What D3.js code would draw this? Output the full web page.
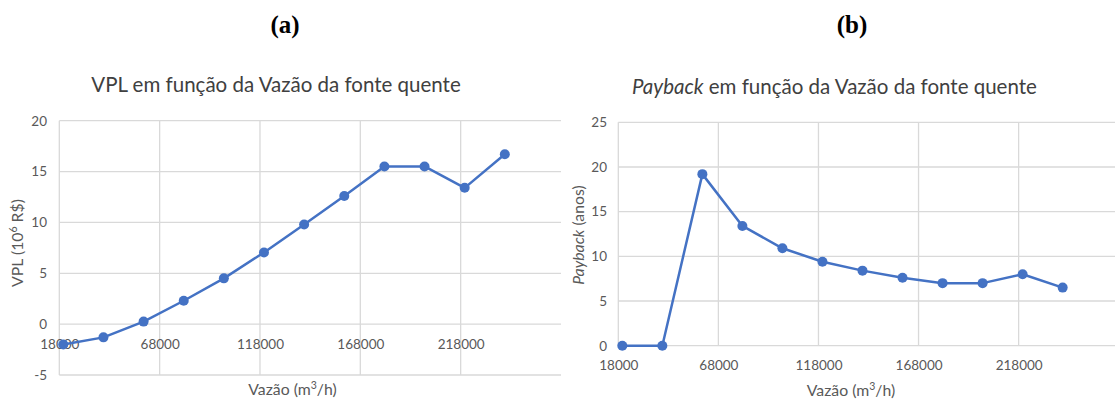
<!DOCTYPE html>
<html>
<head>
<meta charset="utf-8">
<script src="https://cdn.jsdelivr.net/npm/d3@7"></script>
<style>
  html, body { margin: 0; padding: 0; background: #fff; }
  svg { display: block; }
  text { font-family: Lato, "Open Sans", sans-serif; }
</style>
</head>
<body>
<svg id="fig" width="1115" height="400"></svg>
<script>
// Flow rate of the hot source (m³/h)
const vazao = [20000, 40000, 60000, 80000, 100000, 120000, 140000, 160000, 180000, 200000, 220000, 240000];
// Net present value (10^6 R$)
const vpl = [-2.0, -1.3, 0.25, 2.3, 4.5, 7.05, 9.8, 12.6, 15.5, 15.5, 13.4, 16.7];
// Payback period (years)
const payback = [0, 0, 19.2, 13.4, 10.9, 9.4, 8.4, 7.6, 7.0, 7.0, 8.0, 6.5];

const xTicks = [18000, 68000, 118000, 168000, 218000];
const yTicksA = [-5, 0, 5, 10, 15, 20];
const yTicksB = [0, 5, 10, 15, 20, 25];

const svg = d3.select("#fig");
const BLUE = "#4472C4", GRID = "#d9d9d9", TICK = "#595959", TITLE = "#404040";

function panel(opts) {
  const g = svg.append("g");
  const x = d3.scaleLinear().domain([18000, 268000]).range([opts.left, opts.right]);
  const y = d3.scaleLinear().domain(opts.yDomain).range([opts.bottom, opts.top]);

  // horizontal grid
  g.append("g").selectAll("line").data(opts.yTicks).join("line")
    .attr("x1", opts.left).attr("x2", Math.min(opts.right, opts.gridEnd))
    .attr("y1", d => y(d)).attr("y2", d => y(d))
    .attr("stroke", GRID).attr("stroke-width", 1.3);
  // vertical grid
  g.append("g").selectAll("line").data(xTicks).join("line")
    .attr("x1", d => x(d)).attr("x2", d => x(d))
    .attr("y1", opts.top).attr("y2", opts.bottom)
    .attr("stroke", GRID).attr("stroke-width", 1.3);

  // y tick labels (plain hyphen for negatives)
  const yAxis = d3.axisLeft(y).tickValues(opts.yTicks).tickSize(0).tickPadding(0).tickFormat(d => String(d));
  const ya = g.append("g").attr("transform", `translate(${opts.yLabelX},0)`).call(yAxis);
  ya.select(".domain").remove();
  ya.selectAll("text").attr("fill", TICK).style("font-size", "13.5px").style("font-family", "Lato, sans-serif");

  // x tick labels, hung below the zero line
  const xAxis = d3.axisBottom(x).tickValues(xTicks).tickSize(0).tickPadding(0).tickFormat(d => String(d));
  const xa = g.append("g").attr("transform", `translate(0,${opts.xLabelY})`).call(xAxis);
  xa.select(".domain").remove();
  xa.selectAll("text").attr("fill", TICK).style("font-size", "13.5px").style("font-family", "Lato, sans-serif");

  // series
  const line = d3.line().x((d, i) => x(vazao[i])).y(d => y(d));
  g.append("path").datum(opts.values).attr("d", line)
    .attr("fill", "none").attr("stroke", BLUE).attr("stroke-width", 2.5).attr("stroke-linejoin", "round");
  g.append("g").selectAll("circle").data(opts.values).join("circle")
    .attr("cx", (d, i) => x(vazao[i])).attr("cy", d => y(d)).attr("r", 5)
    .attr("fill", BLUE);

  return { g, x, y };
}

// (a) VPL
panel({ left: 59.3, right: 561, gridEnd: 561, top: 120.7, bottom: 375, yDomain: [-5, 20],
        yTicks: yTicksA, values: vpl, yLabelX: 47, xLabelY: 339 });
// (b) Payback
panel({ left: 618.3, right: 1118.7, gridEnd: 1115, top: 122.3, bottom: 345.7, yDomain: [0, 25],
        yTicks: yTicksB, values: payback, yLabelX: 607, xLabelY: 360 });

// panel letters
svg.append("text").attr("x", 285).attr("y", 33).attr("text-anchor", "middle")
  .style("font-family", "'Liberation Serif', 'Times New Roman', serif").style("font-weight", "bold")
  .style("font-size", "25px").attr("fill", "#000").text("(a)");
svg.append("text").attr("x", 852).attr("y", 33).attr("text-anchor", "middle")
  .style("font-family", "'Liberation Serif', 'Times New Roman', serif").style("font-weight", "bold")
  .style("font-size", "25px").attr("fill", "#000").text("(b)");

// chart titles
svg.append("text").attr("x", 276).attr("y", 92).attr("text-anchor", "middle")
  .style("font-size", "20.5px").attr("fill", TITLE)
  .text("VPL em função da Vazão da fonte quente");
const tb = svg.append("text").attr("x", 834.5).attr("y", 94).attr("text-anchor", "middle")
  .style("font-size", "20.5px").attr("fill", TITLE);
tb.append("tspan").style("font-style", "italic").text("Payback");
tb.append("tspan").text(" em função da Vazão da fonte quente");

// x axis titles
function xTitle(cx, cy) {
  const t = svg.append("text").attr("x", cx).attr("y", cy).attr("text-anchor", "middle")
    .style("font-size", "15.8px").attr("fill", TICK);
  t.append("tspan").text("Vazão (m");
  t.append("tspan").attr("dy", -6).style("font-size", "10.5px").text("3");
  t.append("tspan").attr("dy", 6).text("/h)");
}
xTitle(292.5, 395);
xTitle(851, 396);

// y axis titles
const ta = svg.append("text").attr("transform", "translate(23,243) rotate(-90)").attr("text-anchor", "middle")
  .style("font-size", "15.8px").attr("fill", TICK);
ta.append("tspan").text("VPL (10");
ta.append("tspan").attr("dy", -6).style("font-size", "10.5px").text("6");
ta.append("tspan").attr("dy", 6).text(" R$)");

const tp = svg.append("text").attr("transform", "translate(584,235) rotate(-90)").attr("text-anchor", "middle")
  .style("font-size", "15.8px").attr("fill", TICK);
tp.append("tspan").style("font-style", "italic").text("Payback");
tp.append("tspan").text(" (anos)");
</script>
</body>
</html>
